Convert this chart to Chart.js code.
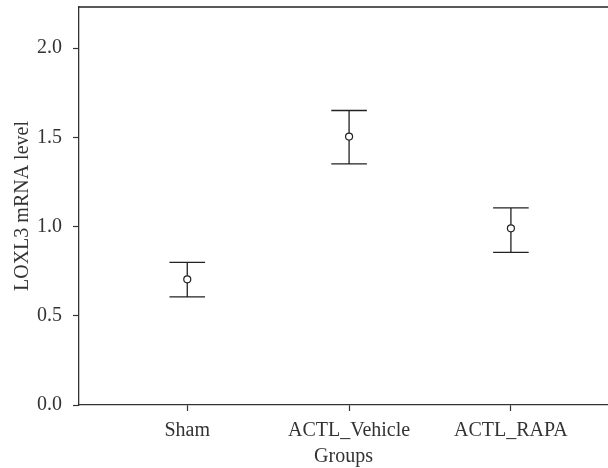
<!doctype html>
<html>
<head>
<meta charset="utf-8">
<script src="https://cdn.jsdelivr.net/npm/chart.js"></script>
<style>
  html, body { margin: 0; padding: 0; background: #fff; }
  #wrap { width: 608px; height: 468px; position: relative; }
</style>
</head>
<body>
<div id="wrap"><canvas id="chart"></canvas></div>
<script>
const groups = ['Sham', 'ACTL_Vehicle', 'ACTL_RAPA']
const means = [0.704, 1.504, 0.99]
const upper = [0.799, 1.65, 1.105]
const lower = [0.606, 1.351, 0.855]
const yTicks = [0, 0.5, 1.0, 1.5, 2.0]

const ink = '#333'
const font = { family: 'Liberation Serif', size: 20 }

const errorBars = {
  id: 'errorBars',
  afterDatasetsDraw(chart) {
    const { ctx, scales: { x, y }, chartArea } = chart
    ctx.save()
    ctx.strokeStyle = '#222'
    ctx.lineWidth = 1.3
    // top frame line
    ctx.beginPath()
    ctx.moveTo(chartArea.left, chartArea.top)
    ctx.lineTo(chartArea.right, chartArea.top)
    ctx.stroke()
    groups.forEach((g, i) => {
      const px = x.getPixelForValue(i + 1)
      const half = x.getPixelForValue(1.11) - x.getPixelForValue(1)
      const top = y.getPixelForValue(upper[i])
      const bot = y.getPixelForValue(lower[i])
      const mid = y.getPixelForValue(means[i])
      ctx.beginPath()
      ctx.moveTo(px, top); ctx.lineTo(px, mid - 3.5)
      ctx.moveTo(px, mid + 3.5); ctx.lineTo(px, bot)
      ctx.moveTo(px - half, top); ctx.lineTo(px + half, top)
      ctx.moveTo(px - half, bot); ctx.lineTo(px + half, bot)
      ctx.stroke()
    })
    ctx.restore()
  }
}

const noPad = axis => {
  axis.paddingTop = 0
  axis.paddingBottom = 0
  axis.paddingLeft = 0
  axis.paddingRight = 0
}

new Chart(document.getElementById('chart'), {
  type: 'scatter',
  data: {
    datasets: [{
      data: means.map((m, i) => ({ x: i + 1, y: m })),
      pointRadius: 3.5,
      pointBorderWidth: 1.2,
      pointBorderColor: '#222',
      pointBackgroundColor: '#fff',
      pointHoverRadius: 3.5
    }]
  },
  options: {
    responsive: true,
    maintainAspectRatio: false,
    animation: false,
    layout: { autoPadding: false, padding: { top: 7, right: 0, left: 0, bottom: 0 } },
    plugins: { legend: { display: false }, tooltip: { enabled: false } },
    scales: {
      x: {
        type: 'linear',
        min: 0.331,
        max: 3.6,
        afterBuildTicks(axis) { axis.ticks = [1, 2, 3].map(v => ({ value: v })) },
        afterFit(axis) { axis.height = 63; noPad(axis) },
        grid: { drawOnChartArea: false, drawTicks: true, tickLength: 6, tickColor: ink, tickWidth: 1.2 },
        border: { color: ink, width: 1.3 },
        ticks: {
          color: ink,
          font,
          padding: 8,
          maxRotation: 0,
          autoSkip: false,
          callback: v => groups[v - 1]
        },
        title: { display: true, text: 'Groups', color: ink, font, padding: { top: 0, bottom: -1 } }
      },
      y: {
        min: 0,
        max: 2.23,
        afterBuildTicks(axis) { axis.ticks = yTicks.map(v => ({ value: v })) },
        afterFit(axis) { axis.width = 79; noPad(axis) },
        grid: { drawOnChartArea: false, drawTicks: true, tickLength: 6, tickColor: ink, tickWidth: 1.2 },
        border: { color: ink, width: 1.3 },
        ticks: { color: ink, font, padding: 11, callback: v => v.toFixed(1) },
        title: { display: true, text: 'LOXL3 mRNA level', color: ink, font, padding: { top: 11, bottom: 0 } }
      }
    }
  },
  plugins: [errorBars]
})
</script>
</body>
</html>
